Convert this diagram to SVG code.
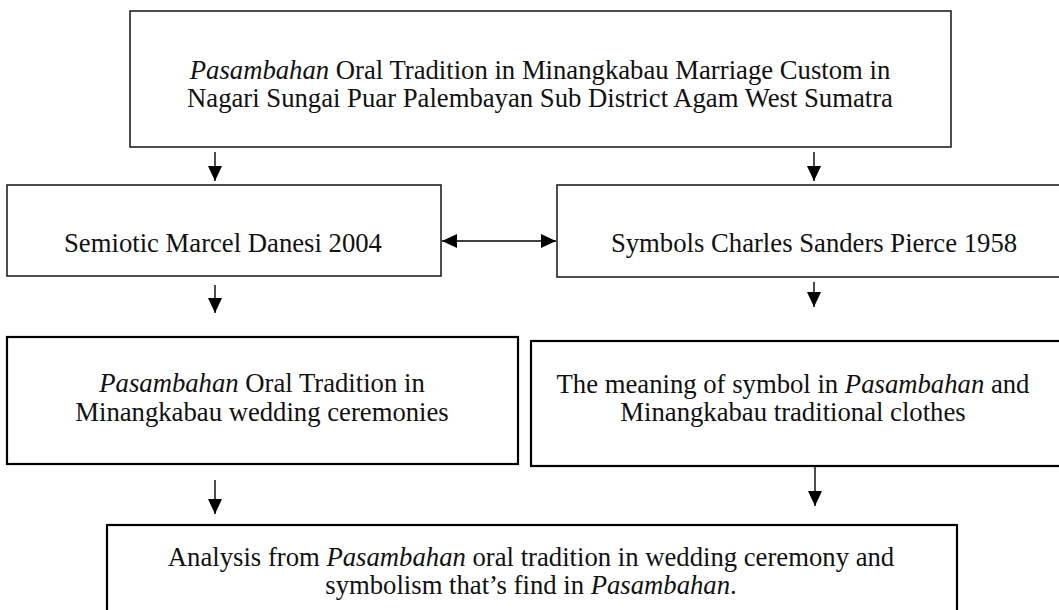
<svg xmlns="http://www.w3.org/2000/svg" width="1059" height="610" viewBox="0 0 1059 610">
  <style>
    .box { fill: #ffffff; stroke: #222222; stroke-width: 1.6; }
    .box2 { fill: #ffffff; stroke: #000000; stroke-width: 2.2; }
    .lbl { font-family: "Liberation Serif", "Times New Roman", serif; font-size: 26.7px; fill: #111111; text-anchor: middle; }
    .it { font-style: italic; }
    .conn { stroke: #000000; stroke-width: 1.4; fill: none; }
  </style>
  <defs>
    <marker id="tipH" viewBox="0 0 15 14" refX="15" refY="7" markerWidth="15" markerHeight="14" markerUnits="userSpaceOnUse" orient="auto-start-reverse">
      <path d="M0,0 L15,7 L0,14 z" fill="#000000"/>
    </marker>
  </defs>

  <rect width="1059" height="610" fill="#ffffff"/>

  <g id="connectors">
    <line class="conn" x1="215" y1="152" x2="215" y2="181" marker-end="url(#tipH)"/>
    <line class="conn" x1="814" y1="152" x2="814" y2="181" marker-end="url(#tipH)"/>
    <line class="conn" x1="442" y1="241" x2="556" y2="241" marker-start="url(#tipH)" marker-end="url(#tipH)"/>
    <line class="conn" x1="215" y1="285" x2="215" y2="313" marker-end="url(#tipH)"/>
    <line class="conn" x1="814" y1="282" x2="814" y2="307" marker-end="url(#tipH)"/>
    <line class="conn" x1="215" y1="480" x2="215" y2="514" marker-end="url(#tipH)"/>
    <line class="conn" x1="815" y1="467" x2="815" y2="506" marker-end="url(#tipH)"/>
  </g>

  <g id="node-title">
    <rect class="box" x="130" y="11" width="821" height="136"/>
    <text class="lbl" x="540" y="79"><tspan class="it">Pasambahan</tspan> Oral Tradition in Minangkabau Marriage Custom in</text>
    <text class="lbl" x="540" y="107">Nagari Sungai Puar Palembayan Sub District Agam West Sumatra</text>
  </g>

  <g id="node-semiotic">
    <rect class="box" x="7" y="185" width="434" height="91"/>
    <text class="lbl" x="223" y="252">Semiotic Marcel Danesi 2004</text>
  </g>

  <g id="node-symbols">
    <rect class="box" x="557" y="185" width="510" height="92"/>
    <text class="lbl" x="814" y="252">Symbols Charles Sanders Pierce 1958</text>
  </g>

  <g id="node-tradition">
    <rect class="box2" x="7" y="337" width="511" height="127"/>
    <text class="lbl" x="262" y="392"><tspan class="it">Pasambahan</tspan> Oral Tradition in</text>
    <text class="lbl" x="262" y="421">Minangkabau wedding ceremonies</text>
  </g>

  <g id="node-meaning">
    <rect class="box2" x="531" y="341" width="536" height="125"/>
    <text class="lbl" x="793" y="393">The meaning of symbol in <tspan class="it">Pasambahan</tspan> and</text>
    <text class="lbl" x="793" y="421">Minangkabau traditional clothes</text>
  </g>

  <g id="node-analysis">
    <rect class="box2" x="107" y="525" width="850" height="95"/>
    <text class="lbl" x="531" y="566">Analysis from <tspan class="it">Pasambahan</tspan> oral tradition in wedding ceremony and</text>
    <text class="lbl" x="531" y="594">symbolism that’s find in <tspan class="it">Pasambahan</tspan>.</text>
  </g>
</svg>
